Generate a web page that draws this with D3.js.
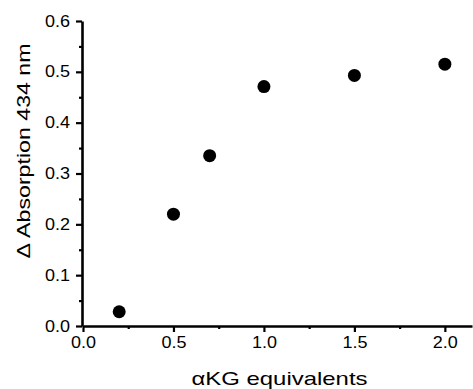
<!DOCTYPE html>
<html>
<head>
<meta charset="utf-8">
<script src="https://cdn.jsdelivr.net/npm/d3@7"></script>
<style>
  body { margin: 0; background: #fff; }
  text { font-family: "Liberation Sans", Arial, sans-serif; }
</style>
</head>
<body>
<div id="viscontainer"></div>
<script>
const equivalents = [0.2, 0.5, 0.7, 1.0, 1.5, 2.0];
const absorption = [0.028, 0.22, 0.335, 0.471, 0.493, 0.515];
const xTicks = [0, 0.5, 1.0, 1.5, 2.0];
const xMinor = [0.25, 0.75, 1.25, 1.75];
const yTicks = [0, 0.1, 0.2, 0.3, 0.4, 0.5, 0.6];
const yMinor = [0.05, 0.15, 0.25, 0.35, 0.45, 0.55];

const width = 473;
const height = 389;

const svg = d3.select("#viscontainer")
  .append("svg")
  .attr("width", width)
  .attr("height", height);

const x = d3.scaleLinear().domain([0, 2.15]).range([83, 472]);
const y = d3.scaleLinear().domain([0, 0.6]).range([326, 21]);
const fmt = d3.format(".1f");

// y axis
svg.append("g")
  .attr("class", "major")
  .attr("transform", `translate(82,0)`)
  .call(d3.axisLeft(y).tickValues(yTicks).tickFormat(fmt).tickSize(6).tickSizeOuter(0).tickPadding(6));
svg.append("g")
  .attr("transform", `translate(82,0)`)
  .call(d3.axisLeft(y).tickValues(yMinor).tickFormat("").tickSize(3))
  .call(g => g.select(".domain").remove());

// x axis
svg.append("g")
  .attr("class", "major")
  .attr("transform", `translate(0,326)`)
  .call(d3.axisBottom(x).tickValues(xTicks).tickFormat(fmt).tickSize(6).tickSizeOuter(0).tickPadding(5));
svg.append("g")
  .attr("transform", `translate(0,326)`)
  .call(d3.axisBottom(x).tickValues(xMinor).tickFormat("").tickSize(3))
  .call(g => g.select(".domain").remove());

svg.selectAll(".domain").attr("stroke-width", 2.6).attr("stroke", "#000");
svg.selectAll(".tick line").attr("stroke-width", 2.2).attr("stroke", "#000");
svg.selectAll(".major .tick text")
  .attr("font-size", 16)
  .attr("fill", "#000")
  .attr("font-family", "Liberation Sans, Arial, sans-serif")
  .attr("textLength", 25)
  .attr("lengthAdjust", "spacingAndGlyphs");

// points
svg.selectAll("circle")
  .data(equivalents)
  .join("circle")
  .attr("cx", d => x(d))
  .attr("cy", (d, i) => y(absorption[i]))
  .attr("r", 6.5)
  .attr("fill", "#000");

// titles
svg.append("text")
  .attr("x", 279.5)
  .attr("y", 385)
  .attr("text-anchor", "middle")
  .attr("font-size", 19)
  .attr("textLength", 176)
  .attr("lengthAdjust", "spacingAndGlyphs")
  .text("\u03B1KG equivalents");

svg.append("text")
  .attr("transform", `translate(30,151) rotate(-90)`)
  .attr("text-anchor", "middle")
  .attr("font-size", 19)
  .attr("textLength", 215)
  .attr("lengthAdjust", "spacingAndGlyphs")
  .text("\u0394 Absorption 434 nm");
</script>
</body>
</html>
